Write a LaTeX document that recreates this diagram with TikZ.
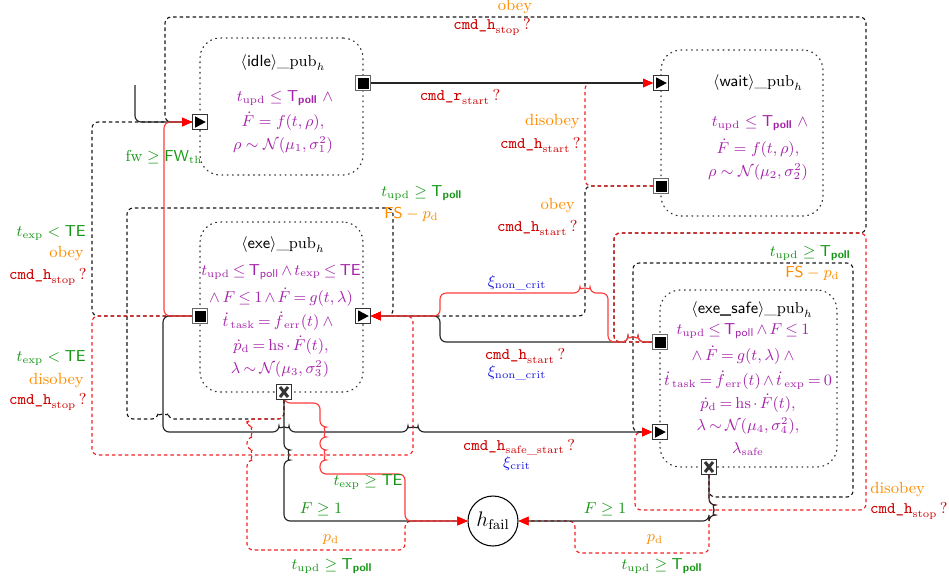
\documentclass[tikz,border=0pt]{standalone}
\usepackage{amsmath}
\usetikzlibrary{arrows.meta}
\definecolor{txtred}{RGB}{205,0,0}
\definecolor{lnred}{RGB}{255,60,60}
\definecolor{dshred}{RGB}{245,30,30}
\definecolor{grn}{RGB}{20,150,20}
\definecolor{org}{RGB}{255,140,0}
\definecolor{blu}{RGB}{25,25,225}
\definecolor{prp}{RGB}{165,35,170}
\newcommand{\Tpl}{\mathsf{T}_{\textsf{poll}}}
\newcommand{\Tplb}{\mathsf{T}_{\textsf{\bfseries poll}}}
\newcommand{\cmdlbl}[2]{$\texttt{cmd\_#1}_{\mathrm{#2}}\,?$}
\newcommand{\upd}{t_{\mathrm{upd}}}
\newcommand{\basefont}{\fontsize{9.2}{11}\selectfont}
\tikzset{
  edge/.style={line width=0.65pt, rounded corners=3.5pt},
  sblk/.style={edge, black!85},
  sred/.style={edge, lnred},
  dblk/.style={edge, black!90, dash pattern=on 2pt off 1.7pt},
  dred/.style={edge, dshred, dash pattern=on 2pt off 1.7pt},
  arr/.style={-{Triangle[length=0.2cm,width=0.17cm,red]}},
  statebox/.style={draw=black!80, rectangle, rounded corners=0.4cm, dash pattern=on 0.5pt off 2.5pt, line cap=round, line width=0.7pt, inner sep=0pt},
  sqport/.style={draw=black!60, fill=white, rectangle, minimum size=0.3cm, inner sep=0pt, line width=0.4pt,
    path picture={\fill[black] ([shift={(0.04cm,0.04cm)}]path picture bounding box.south west) rectangle ([shift={(-0.04cm,-0.04cm)}]path picture bounding box.north east);}},
  inport/.style={draw=black!80, fill=white, rectangle, minimum size=0.3cm, inner sep=0pt, line width=0.5pt,
    path picture={\fill[black] ([shift={(0.05cm,0.035cm)}]path picture bounding box.south west) -- ([shift={(0.05cm,-0.035cm)}]path picture bounding box.north west) -- ([shift={(-0.035cm,0cm)}]path picture bounding box.east) -- cycle;}},
  xport/.style={draw=black!80, fill=white, rectangle, minimum size=0.3cm, inner sep=0pt, line width=0.5pt,
    path picture={\draw[line width=1.7pt] ([shift={(0.07cm,0.05cm)}]path picture bounding box.south west) -- ([shift={(-0.07cm,-0.05cm)}]path picture bounding box.north east);
      \draw[line width=1.7pt] ([shift={(0.07cm,-0.05cm)}]path picture bounding box.north west) -- ([shift={(-0.07cm,0.05cm)}]path picture bounding box.south east);}},
  ttl/.style={inner sep=0pt, text=black, font=\basefont},
  eqn/.style={inner sep=0pt, text=prp, font=\basefont},
  eqc/.style={inner sep=0pt, text=prp, font={\basefont\thickmuskip=3.5mu\medmuskip=2.5mu}},
  lbl/.style={inner sep=0pt, font=\basefont},
}
\begin{document}
\begin{tikzpicture}[x=0.02cm,y=-0.02cm]
\useasboundingbox (0,0) rectangle (949,579);

% locations
\node[statebox, minimum width=3.26cm, minimum height=2.74cm] (idle) at (281.5,106.5) {};
\node[statebox, minimum width=3.24cm, minimum height=3.32cm] (wait) at (742,133) {};
\node[statebox, minimum width=3.26cm, minimum height=3.4cm] (exe) at (281.5,307) {};
\node[statebox, minimum width=3.54cm, minimum height=3.54cm] (esafe) at (748.5,378.5) {};
\node[draw, circle, minimum size=1cm, inner sep=0pt, line width=0.6pt, font=\fontsize{12}{14}\selectfont] (fail) at (493,521) {$h_{\mathrm{fail}}$};

% port positions
\coordinate (iIc) at (200,122);
\coordinate (iOc) at (363,83);
\coordinate (wIc) at (661,83);
\coordinate (wOc) at (661,186);
\coordinate (eOc) at (200,316);
\coordinate (eIc) at (363,316);
\coordinate (eXc) at (284,392);
\coordinate (sOc) at (660,342);
\coordinate (sIc) at (660,432);
\coordinate (sXc) at (709,467);
\path (iIc) node[inport] (iI) {};
\path (iOc) node[sqport] (iO) {};
\path (wIc) node[inport] (wI) {};
\path (wOc) node[sqport] (wO) {};
\path (eOc) node[sqport] (eO) {};
\path (eIc) node[inport] (eI) {};
\path (eXc) node[xport] (eX) {};
\path (sOc) node[sqport] (sO) {};
\path (sIc) node[inport] (sI) {};
\path (sXc) node[xport] (sX) {};
\coordinate (init) at (135,85);

% dashed black transitions
\draw[dblk,arr] (wO.west) -- (585,186) -- (585,316) -- (eI.east);
\draw[dblk,arr] (sO.west) -- (614,342) -- (614,233) -- (866,233) -- (866,17) -- (165,17) -- (165,122) -- (iI.west);
\draw[dblk,arr] (eO.west) -- (92,316) -- (92,122) -- (iI.west);
\draw[dblk,arr] (eX.south) -- (284,419) -- (168,419) arc[start angle=0,end angle=180,radius=0.1cm] -- (127,419) -- (127,208) -- (393,208) -- (393,316) -- (eI.east);
\draw[dblk,arr] (sX.south) -- (709,497) -- (853,497) -- (853,263) -- (633,263) -- (633,432) -- (sI.west);

% dashed red transitions
\draw[dred,arr] (wO.west) -- (585,186) -- (585,83) -- (wI.west);
\draw[dred,arr] (sO.west) -- (614,342) -- (614,233) -- (866,233) -- (866,510) -- (635,510) -- (635,432) -- (sI.west);
\draw[dred,arr] (eO.west) -- (92,316) -- (92,455) -- (413,455) -- (413,316) -- (eI.east);
\draw[dred,arr] (eX.south) -- (284,419) -- (247,419) -- (247,427) arc[start angle=90,end angle=-90,radius=0.1cm] -- (247,450) arc[start angle=90,end angle=-90,radius=0.1cm] -- (247,550) -- (405,550) -- (405,521) -- (fail.west);
\draw[dred,arr] (sX.south) -- (709,505) arc[start angle=90,end angle=-90,radius=0.1cm] -- (709,553) -- (575,553) -- (575,521) -- (fail.east);

% solid black transitions
\draw[sblk] (init) -- (135,122) -- (iI.west);
\draw[sblk,arr] (iO.east) -- (wI.west);
\draw[sblk,arr] (sO.west) -- (638,342) arc[start angle=0,end angle=180,radius=0.1cm] -- (440,342) -- (440,316) -- (eI.east);
\draw[sblk,arr] (eX.south) -- (284,450) arc[start angle=90,end angle=-90,radius=0.1cm] -- (284,521) -- (fail.west);
\draw[sblk,arr] (eO.west) -- (163,316) -- (163,432) -- (279,432) arc[start angle=180,end angle=0,radius=0.1cm] -- (408,432) arc[start angle=180,end angle=0,radius=0.1cm] -- (sI.west);
\draw[sblk,arr] (sX.south) -- (709,505) arc[start angle=90,end angle=-90,radius=0.1cm] -- (709,521) -- (fail.east);

% solid red transitions
\draw[sred,arr] (eO.west) -- (164,316) -- (164,122) -- (iI.west);
\draw[sred,arr] (sO.west) -- (638,342) arc[start angle=0,end angle=180,radius=0.1cm] -- (608,342) -- (608,293) -- (590,293) arc[start angle=0,end angle=180,radius=0.1cm] -- (440,293) -- (440,316) -- (eI.east);
\draw[sred,arr] (eX.south) -- (284,403) -- (320,403) -- (320,427) arc[start angle=90,end angle=-90,radius=0.1cm] -- (320,450) arc[start angle=90,end angle=-90,radius=0.1cm] -- (320,474) -- (405,474) -- (405,521) -- (fail.west);

% ports on top of the connectors
\path (iIc) node[inport] {};
\path (iOc) node[sqport] {};
\path (wIc) node[inport] {};
\path (wOc) node[sqport] {};
\path (eOc) node[sqport] {};
\path (eIc) node[inport] {};
\path (eXc) node[xport] {};
\path (sOc) node[sqport] {};
\path (sIc) node[inport] {};
\path (sXc) node[xport] {};

% idle
\node[ttl] at (283,63) {$\langle\textsf{idle}\rangle\_\mathrm{pub}_h$};
\node[eqn] at (285,98) {$\upd\leq\Tplb\;\wedge$};
\node[eqn] at (283,121) {$\dot F=f(t,\rho),$};
\node[eqn] at (283,145) {$\rho\sim\mathcal{N}(\mu_1,\sigma_1^2)$};
% wait
\node[ttl] at (758,83) {$\langle\textsf{wait}\rangle\_\mathrm{pub}_h$};
\node[eqn] at (760,123) {$\upd\leq\Tplb\;\wedge$};
\node[eqn] at (758,148) {$\dot F=f(t,\rho),$};
\node[eqn] at (758,172) {$\rho\sim\mathcal{N}(\mu_2,\sigma_2^2)$};
% exe
\node[ttl] at (283,245) {$\langle\textsf{exe}\rangle\_\mathrm{pub}_h$};
\node[eqc] at (281,272) {$\upd\leq\Tpl\wedge t_{\mathrm{exp}}\leq\mathsf{TE}$};
\node[eqc] at (281,297) {$\wedge\, F\leq 1\wedge\dot F=g(t,\lambda)$};
\node[eqc] at (278,321) {$\dot t_{\,\mathrm{task}}=\dot f_{\,\mathrm{err}}(t)\;\wedge$};
\node[eqc] at (281,345) {$\dot{p}_{\mathrm{d}}=\mathrm{hs}\cdot\dot F(t),$};
\node[eqc] at (280,369) {$\lambda\sim\mathcal{N}(\mu_3,\sigma_3^2)$};
% exe_safe
\node[ttl] at (752,310) {$\langle\textsf{exe\_safe}\rangle\_\mathrm{pub}_h$};
\node[eqc] at (743,331) {$\upd\leq\Tpl\wedge F\leq 1$};
\node[eqc] at (743,355) {$\wedge\,\dot F=g(t,\lambda)\;\wedge$};
\node[eqc] at (748,380) {$\dot t_{\,\mathrm{task}}=\dot f_{\,\mathrm{err}}(t)\wedge\dot t_{\,\mathrm{exp}}=0$};
\node[eqc] at (748,403) {$\dot{p}_{\mathrm{d}}=\mathrm{hs}\cdot\dot F(t),$};
\node[eqc] at (748,426) {$\lambda\sim\mathcal{N}(\mu_4,\sigma_4^2),$};
\node[eqc] at (748,449) {$\lambda_{\mathrm{safe}}$};

% transition labels
\node[lbl, text=org] at (515,7) {obey};
\node[lbl, text=txtred] at (492,27) {\cmdlbl{h}{stop}};
\node[lbl, text=txtred] at (460,97) {\cmdlbl{r}{start}};
\node[lbl, text=org, anchor=east] at (580,122) {disobey};
\node[lbl, text=txtred, anchor=east] at (581,145) {\cmdlbl{h}{start}};
\node[lbl, text=org, anchor=east] at (575,206) {obey};
\node[lbl, text=txtred, anchor=east] at (578,228) {\cmdlbl{h}{start}};
\node[lbl, text=grn, anchor=west] at (381,193) {$\upd\geq\Tplb$};
\node[lbl, text=org, anchor=west] at (384,215) {$\mathsf{FS}-p_{\mathrm{d}}$};
\node[lbl, text=grn] at (164,157) {$\mathrm{fw}\geq\mathsf{FW}_{\mathrm{th}}$};
\node[lbl, text=grn, anchor=east] at (86,233) {$t_{\mathrm{exp}}<\mathsf{TE}$};
\node[lbl, text=org, anchor=east] at (84,254) {obey};
\node[lbl, text=txtred, anchor=east] at (87,277) {\cmdlbl{h}{stop}};
\node[lbl, text=grn, anchor=east] at (86,358) {$t_{\mathrm{exp}}<\mathsf{TE}$};
\node[lbl, text=org, anchor=east] at (84,381) {disobey};
\node[lbl, text=txtred, anchor=east] at (87,402) {\cmdlbl{h}{stop}};
\node[lbl, text=blu] at (517,283) {$\xi_{\mathrm{non\_crit}}$};
\node[lbl, text=txtred] at (525,356) {\cmdlbl{h}{start}};
\node[lbl, text=blu] at (517,373) {$\xi_{\mathrm{non\_crit}}$};
\node[lbl, text=txtred] at (519,447) {\cmdlbl{h}{safe\_start}};
\node[lbl, text=blu] at (517,464) {$\xi_{\mathrm{crit}}$};
\node[lbl, text=grn] at (368,482) {$t_{\mathrm{exp}}\geq\mathsf{TE}$};
\node[lbl, text=grn] at (321,509) {$F\geq 1$};
\node[lbl, text=grn] at (605,509) {$F\geq 1$};
\node[lbl, text=org] at (331,540) {$p_{\mathrm{d}}$};
\node[lbl, text=grn] at (332,566) {$\upd\geq\Tplb$};
\node[lbl, text=org] at (655,540) {$p_{\mathrm{d}}$};
\node[lbl, text=grn] at (662,566) {$\upd\geq\Tplb$};
\node[lbl, text=grn, anchor=east] at (851,253) {$\upd\geq\Tplb$};
\node[lbl, text=org, anchor=east] at (840,274) {$\mathsf{FS}-p_{\mathrm{d}}$};
\node[lbl, text=org, anchor=west] at (870,490) {disobey};
\node[lbl, text=txtred, anchor=east] at (948,511) {\cmdlbl{h}{stop}};
\end{tikzpicture}
\end{document}
